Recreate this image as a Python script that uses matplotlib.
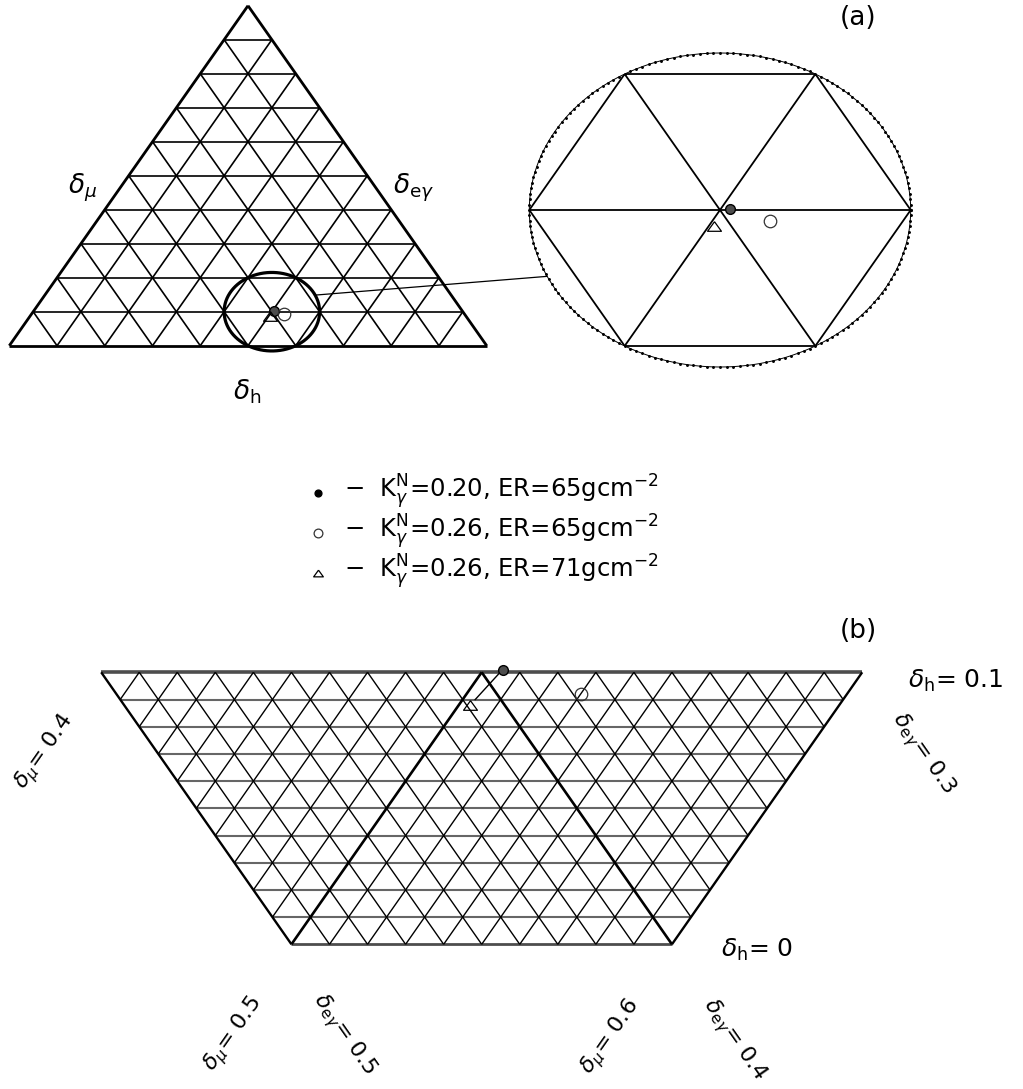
import numpy as np
import matplotlib.pyplot as plt
from matplotlib.patches import ConnectionPatch, Polygon

plt.rcParams["font.family"] = "DejaVu Sans"
plt.rcParams["mathtext.fontset"] = "dejavusans"

W, H = 1023, 1089
R3 = np.sqrt(3) / 2

# ================================
# Dados
# ================================
# pontos ajustados (delta_h, delta_mu); delta_egamma = 1 - delta_h - delta_mu
ponto_h = [0.101, 0.092, 0.088]
ponto_mu = [0.505, 0.530, 0.503]
k_gamma = [0.20, 0.26, 0.26]
er = [65, 65, 71]

# regiao ampliada no painel (a)
centro_h, centro_mu = 0.1, 0.5
raio = 0.1

# painel (b): faixa de delta_h e limites das bordas
b_h_min, b_h_max = 0.0, 0.1
b_eg_max = 0.5
b_mu_max = 0.6
b_mu_destaque = 0.5
b_eg_destaque = 0.4
n_a = 10      # divisoes da grade (a)
n_b = 100     # divisoes da grade (b)

rotulos_b = [
    (r"$\delta_{\mu}$= 0.4", 45, 752, 55),
    (r"$\delta_{\mathrm{e}\gamma}$= 0.3", 923, 754, -55),
    (r"$\delta_{\mu}$= 0.5", 233, 1034, 55),
    (r"$\delta_{\mathrm{e}\gamma}$= 0.5", 344, 1035, -55),
    (r"$\delta_{\mu}$= 0.6", 611, 1037, 55),
    (r"$\delta_{\mathrm{e}\gamma}$= 0.4", 734, 1040, -55),
]


def tern(h, mu):
    h = np.asarray(h, float)
    mu = np.asarray(mu, float)
    return mu + h / 2, h * R3


def painel(box, ref_xy, ref_px, sx, sy):
    l, t, w, h = box
    ax = fig.add_axes([l / W, 1 - (t + h) / H, w / W, h / H])
    ax.set_xlim(ref_xy[0] + (l - ref_px[0]) / sx, ref_xy[0] + (l + w - ref_px[0]) / sx)
    ax.set_ylim(ref_xy[1] + (ref_px[1] - t - h) / sy, ref_xy[1] + (ref_px[1] - t) / sy)
    ax.set_facecolor("none")
    ax.axis("off")
    return ax


def seg(ax, h0, mu0, h1, mu1, **kw):
    x, y = tern([h0, h1], [mu0, mu1])
    return ax.plot(x, y, solid_capstyle="butt", **kw)[0]


fig = plt.figure(figsize=(W / 100, H / 100), dpi=100)

tri_marker = [(0, 0.69), (-1, -0.69), (1, -0.69), (0, 0.69)]
estilos = [
    dict(marker="o", ms=7, mfc="0.3", mec="k", mew=1.0),
    dict(marker="o", ms=9, mfc="none", mec="0.2", mew=0.9),
    dict(marker=tri_marker, ms=10, mfc="none", mec="k", mew=0.9),
]


def marcar(ax):
    px, py = tern(ponto_h, ponto_mu)
    for i in range(3):
        ax.plot(px[i], py[i], ls="none", zorder=5, **estilos[i])


# ================================
# Painel (a) - triangulo completo
# ================================
ax_a = painel((0, 0, 520, 430), (0.0, 0.0), (9.3, 345.7), 477.4, 392.6)


def grade_a(ax, lw_borda, lw_grade, clip=None):
    arts = []
    for k in range(n_a + 1):
        v = k / n_a
        lw = lw_borda if k == 0 else lw_grade
        arts.append(seg(ax, v, 0, v, 1 - v, color="k", lw=lw))        # delta_h const
        arts.append(seg(ax, 0, v, 1 - v, v, color="k", lw=lw))        # delta_mu const
        arts.append(seg(ax, 0, 1 - v, 1 - v, 0, color="k", lw=lw))    # delta_egamma const
    if clip is not None:
        for a in arts:
            a.set_clip_path(clip)


grade_a(ax_a, 2.0, 1.2)
t = np.linspace(0, 2 * np.pi, 361)
cx, cy = tern(centro_h, centro_mu)
ax_a.plot(cx + raio * np.cos(t), cy + raio * np.sin(t), color="k", lw=2.3)
marcar(ax_a)

# ================================
# Painel (a) - ampliacao
# ================================
ax_z = painel((505, 35, 430, 350), (float(cx), float(cy)), (720.0, 210.0), 1907.0, 1570.0)
circ = Polygon(np.column_stack([cx + raio * np.cos(t), cy + raio * np.sin(t)]),
               closed=True, fill=False, lw=0, transform=ax_z.transData)
ax_z.add_patch(circ)
grade_a(ax_z, 1.3, 1.3, clip=circ)
ax_z.plot(cx + raio * np.cos(t), cy + raio * np.sin(t), color="k", lw=0.7,
          marker=".", ms=2.2, markevery=2)
marcar(ax_z)

ang_a, ang_z = np.deg2rad(25), np.deg2rad(205)
con = ConnectionPatch(xyA=(cx + raio * np.cos(ang_a), cy + raio * np.sin(ang_a)), coordsA=ax_a.transData,
                      xyB=(cx + raio * np.cos(ang_z), cy + raio * np.sin(ang_z)), coordsB=ax_z.transData,
                      color="k", lw=0.9)
fig.add_artist(con)

# ================================
# Painel (b) - faixa ampliada
# ================================
ax_b = painel((80, 640, 830, 320), (float(cx), float(cy)), (481.7, 672.3), 3805.0, 3141.0)
kh0, kh1 = int(round(b_h_min * n_b)), int(round(b_h_max * n_b))
for k in range(kh0, kh1 + 1):
    h = k / n_b
    if k == kh1:
        st = dict(color="0.3", lw=2.6)
    elif k == kh0:
        st = dict(color="0.3", lw=2.0)
    else:
        st = dict(color="0.4", lw=1.5)
    seg(ax_b, h, b_eg_max - h, h, b_mu_max, **st)

# linhas delta_mu constante
for k in range(int(round((1 - b_eg_max - b_h_max) * n_b)) + 1, int(round(b_mu_max * n_b)) + 1):
    m = k / n_b
    h0 = max(b_h_min, 1 - b_eg_max - m)
    if abs(m - b_mu_max) < 1e-9:
        lw = 1.7
    elif abs(m - b_mu_destaque) < 1e-9:
        lw = 1.9
    else:
        lw = 1.0
    seg(ax_b, h0, m, b_h_max, m, color="k", lw=lw)

# linhas delta_egamma constante
for k in range(int(round((1 - b_mu_max - b_h_max) * n_b)) + 1, int(round(b_eg_max * n_b)) + 1):
    e = k / n_b
    h0 = max(b_h_min, 1 - b_mu_max - e)
    if abs(e - b_eg_max) < 1e-9:
        lw = 1.7
    elif abs(e - b_eg_destaque) < 1e-9:
        lw = 1.9
    else:
        lw = 1.0
    seg(ax_b, h0, 1 - e - h0, b_h_max, 1 - e - b_h_max, color="k", lw=lw)

marcar(ax_b)
# traco ligando o ponto cheio ao triangulo
px, py = tern(ponto_h, ponto_mu)
f0, f1 = 0.1, 0.85
ax_b.plot([px[0] + f0 * (px[2] - px[0]), px[0] + f1 * (px[2] - px[0])],
          [py[0] + f0 * (py[2] - py[0]), py[0] + f1 * (py[2] - py[0])], color="k", lw=1.0)

# ================================
# Textos e legenda
# ================================
ax_t = fig.add_axes([0, 0, 1, 1])
ax_t.set_xlim(0, W)
ax_t.set_ylim(H, 0)
ax_t.set_facecolor("none")
ax_t.axis("off")

ax_t.text(68, 193, r"$\delta_{\mu}$", fontsize=19, va="baseline")
ax_t.text(393, 193, r"$\delta_{\mathrm{e}\gamma}$", fontsize=19, va="baseline")
ax_t.text(233, 400, r"$\delta_{\mathrm{h}}$", fontsize=19, va="baseline")
ax_t.text(840, 25, "(a)", fontsize=19, va="baseline")
ax_t.text(840, 638, "(b)", fontsize=19, va="baseline")

leg_x, leg_y, leg_dy = 318, 493, 40
for i in range(3):
    st = dict(estilos[i])
    st["ms"] = st["ms"] * 0.7
    if i == 0:
        st["mfc"] = "k"
    ax_t.plot(leg_x, leg_y + i * leg_dy, ls="none", **st)
    ax_t.text(leg_x + 26, leg_y + 5 + i * leg_dy,
              r"$-$  K$_{\gamma}^{\mathrm{N}}$=%.2f, ER=%dgcm$^{-2}$" % (k_gamma[i], er[i]),
              fontsize=17.5, va="baseline")

ax_t.text(908, 688, r"$\delta_{\mathrm{h}}$= 0.1", fontsize=18, va="baseline")
ax_t.text(721, 957, r"$\delta_{\mathrm{h}}$= 0", fontsize=18, va="baseline")
for txt, x, y, rot in rotulos_b:
    ax_t.text(x, y, txt, fontsize=16, rotation=rot, rotation_mode="anchor",
              ha="center", va="center")

fig.savefig("out.png", dpi=100)
